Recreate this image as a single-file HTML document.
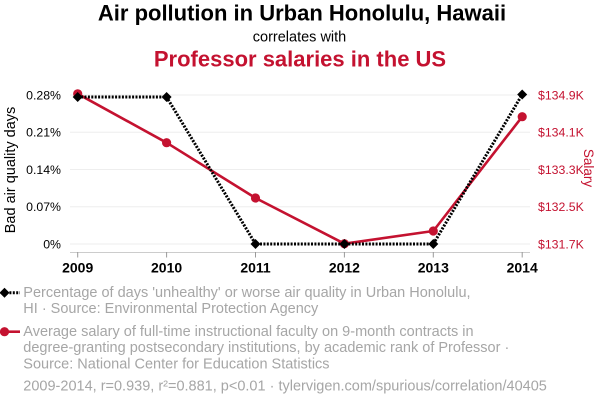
<!DOCTYPE html>
<html><head><meta charset="utf-8"><style>
html,body{margin:0;padding:0;background:#fff;}
svg{display:block;font-family:"Liberation Sans",Arial,sans-serif;}
</style></head><body>
<svg width="600" height="408" viewBox="0 0 600 408" xmlns="http://www.w3.org/2000/svg">
<text x="302" y="20.7" text-anchor="middle" font-size="22" font-weight="bold" fill="#000">Air pollution in Urban Honolulu, Hawaii</text>
<text x="299.5" y="41.7" text-anchor="middle" font-size="14.5" fill="#000">correlates with</text>
<text x="300" y="66.7" text-anchor="middle" font-size="22" font-weight="bold" fill="#c41230">Professor salaries in the US</text>
<g stroke="#eeeeee" stroke-width="1">
<line x1="70" x2="530" y1="95" y2="95"/>
<line x1="70" x2="530" y1="132.3" y2="132.3"/>
<line x1="70" x2="530" y1="169.5" y2="169.5"/>
<line x1="70" x2="530" y1="206.7" y2="206.7"/>
<line x1="70" x2="530" y1="244" y2="244"/>
</g>
<line x1="70" x2="530" y1="252.5" y2="252.5" stroke="#cccccc" stroke-width="1"/>
<g stroke="#999" stroke-width="1">
<line x1="77.7" x2="77.7" y1="252" y2="257.5"/>
<line x1="166.6" x2="166.6" y1="252" y2="257.5"/>
<line x1="255.5" x2="255.5" y1="252" y2="257.5"/>
<line x1="344.4" x2="344.4" y1="252" y2="257.5"/>
<line x1="433.3" x2="433.3" y1="252" y2="257.5"/>
<line x1="522.2" x2="522.2" y1="252" y2="257.5"/>
</g>
<g font-size="14" font-weight="bold" fill="#000" text-anchor="middle">
<text x="77.7" y="272.7">2009</text>
<text x="166.6" y="272.7">2010</text>
<text x="255.5" y="272.7">2011</text>
<text x="344.4" y="272.7">2012</text>
<text x="433.3" y="272.7">2013</text>
<text x="522.2" y="272.7">2014</text>
</g>
<g font-size="12.3" fill="#000" text-anchor="end">
<text x="61" y="99.4">0.28%</text>
<text x="61" y="136.7">0.21%</text>
<text x="61" y="173.9">0.14%</text>
<text x="61" y="211.1">0.07%</text>
<text x="61" y="248.4">0%</text>
</g>
<g font-size="12.3" fill="#c41230" text-anchor="start">
<text x="538" y="99.4">$134.9K</text>
<text x="538" y="136.7">$134.1K</text>
<text x="538" y="173.9">$133.3K</text>
<text x="538" y="211.1">$132.5K</text>
<text x="538" y="248.4">$131.7K</text>
</g>
<text transform="translate(15,170) rotate(-90)" text-anchor="middle" font-size="14.5" fill="#000">Bad air quality days</text>
<text transform="translate(584,168) rotate(90)" text-anchor="middle" font-size="13.5" fill="#c41230">Salary</text>
<polyline points="77.7,93.8 166.6,142.7 255.5,198 344.4,243.7 433.3,231 522.2,116.7" fill="none" stroke="#c41230" stroke-width="2.6" stroke-linejoin="round"/>
<g fill="#c41230">
<circle cx="77.7" cy="93.8" r="4.6"/>
<circle cx="166.6" cy="142.7" r="4.6"/>
<circle cx="255.5" cy="198" r="4.6"/>
<circle cx="344.4" cy="243.7" r="4.6"/>
<circle cx="433.3" cy="231" r="4.6"/>
<circle cx="522.2" cy="116.7" r="4.6"/>
</g>
<polyline points="77.7,97 166.6,97 255.5,244 344.4,244 433.3,244 522.2,94.5" fill="none" stroke="#000" stroke-width="3" stroke-dasharray="2,1.4"/>
<g fill="#000">
<polygon points="77.7,92 82.7,97 77.7,102 72.7,97"/>
<polygon points="166.6,92 171.6,97 166.6,102 161.6,97"/>
<polygon points="255.5,239 260.5,244 255.5,249 250.5,244"/>
<polygon points="344.4,239 349.4,244 344.4,249 339.4,244"/>
<polygon points="433.3,239 438.3,244 433.3,249 428.3,244"/>
<polygon points="522.2,89.5 527.2,94.5 522.2,99.5 517.2,94.5"/>
</g>
<line x1="6" x2="20" y1="292.7" y2="292.7" stroke="#000" stroke-width="3" stroke-dasharray="2,1.4"/>
<polygon points="4.5,287.7 9.5,292.7 4.5,297.7 -0.5,292.7" fill="#000"/>
<line x1="4" x2="20" y1="331.7" y2="331.7" stroke="#c41230" stroke-width="2.6"/>
<circle cx="4.5" cy="331.7" r="4.6" fill="#c41230"/>
<g font-size="14.5" fill="#a6a6a6">
<text x="23.3" y="297">Percentage of days 'unhealthy' or worse air quality in Urban Honolulu,</text>
<text x="23.3" y="313">HI · Source: Environmental Protection Agency</text>
<text x="23.3" y="336">Average salary of full-time instructional faculty on 9-month contracts in</text>
<text x="23.3" y="352">degree-granting postsecondary institutions, by academic rank of Professor ·</text>
<text x="23.3" y="368.3">Source: National Center for Education Statistics</text>
<text x="23.3" y="390.7">2009-2014, r=0.939, r²=0.881, p&lt;0.01 · tylervigen.com/spurious/correlation/40405</text>
</g>
</svg>
</body></html>
